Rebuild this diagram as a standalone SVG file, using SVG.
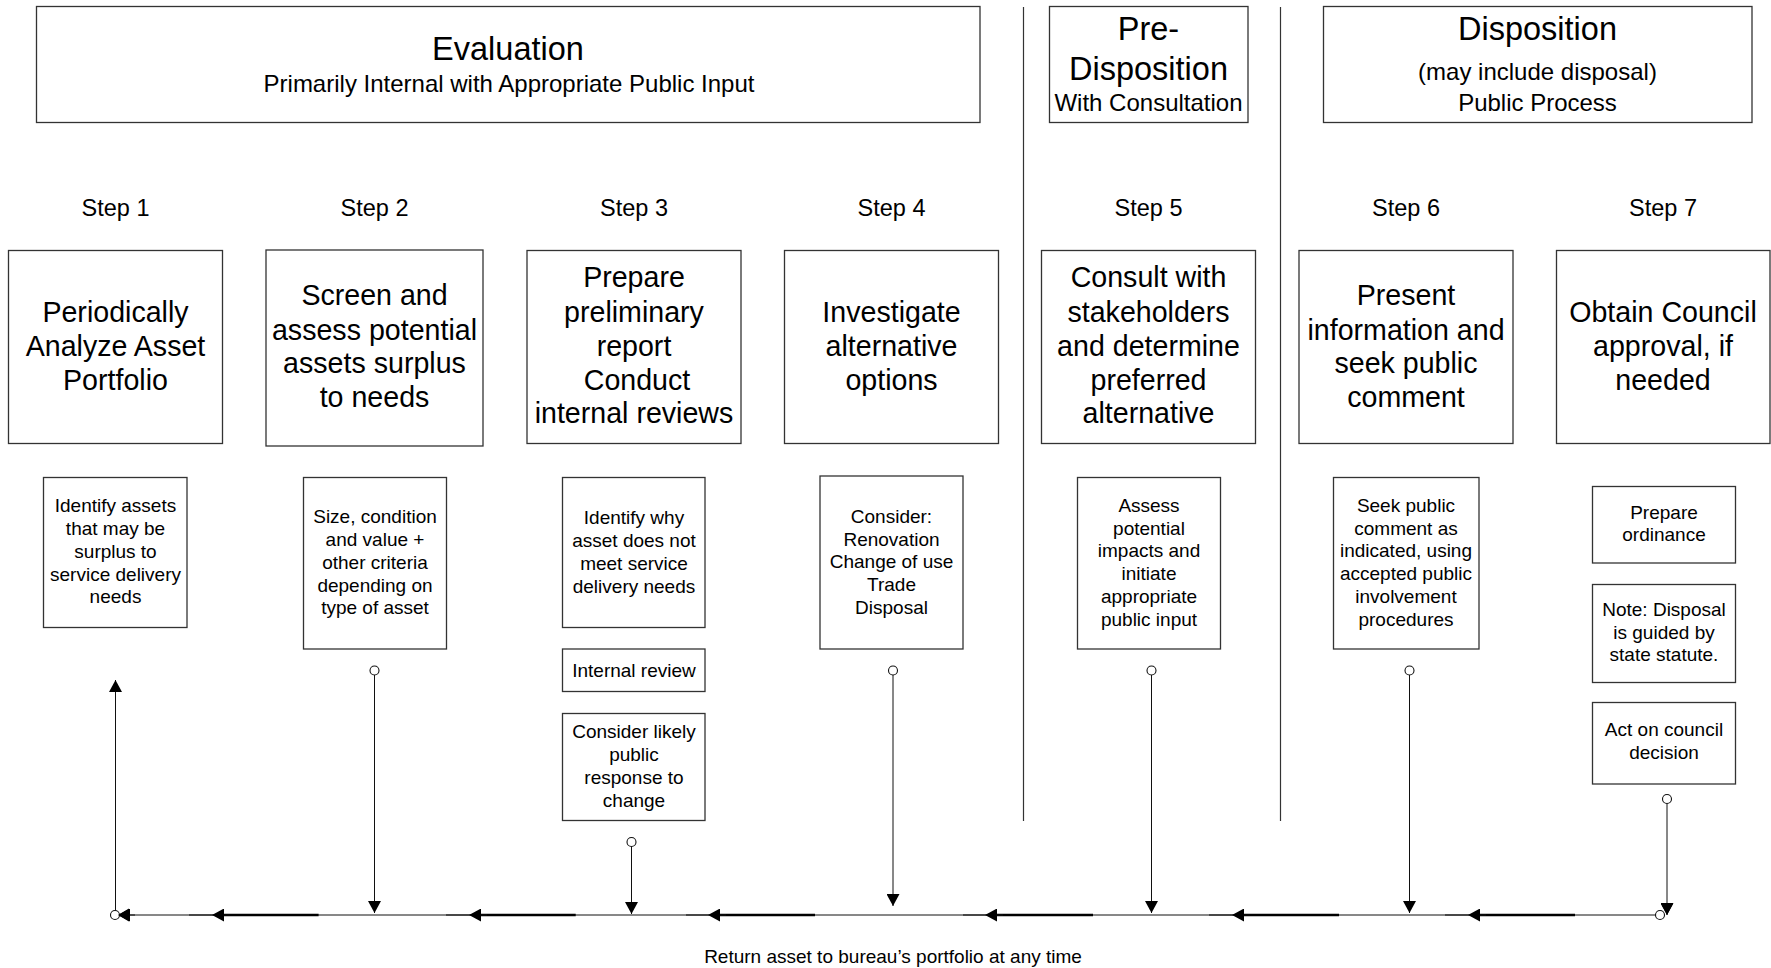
<svg xmlns="http://www.w3.org/2000/svg" width="1771" height="968" viewBox="0 0 1771 968">
<defs>
<style>
.box{fill:#fff;stroke:#333;stroke-width:1.3}
.t{font-family:"Liberation Sans",Arial,sans-serif;fill:#000;text-anchor:middle}
.h1{font-size:32.5px}
.h2{font-size:24px}
.st{font-size:23.5px}
.big{font-size:28.6px}
.sm{font-size:19px}
.ln{fill:none;stroke:#111;stroke-width:1}
.mid{fill:none;stroke:#333;stroke-width:1.6}
.thick{fill:none;stroke:#000;stroke-width:2.4}
.sep{fill:none;stroke:#333;stroke-width:1.2}
.dot{fill:#fff;stroke:#111;stroke-width:1.1}
</style>
<marker id="arr" markerWidth="12" markerHeight="13" refX="12" refY="6.5" orient="auto" markerUnits="userSpaceOnUse">
<path d="M0,0 L12,6.5 L0,13 z" fill="#000"/>
</marker>
</defs>
<rect width="1771" height="968" fill="#fff"/>

<g id="header-evaluation">
<rect class="box" x="36.5" y="6.5" width="943.5" height="116"/>
<text class="t h1" x="508" y="60">Evaluation</text>
<text class="t h2" x="509" y="92">Primarily Internal with Appropriate Public Input</text>
</g>
<g id="header-predisposition">
<rect class="box" x="1049.5" y="6.5" width="198.5" height="116"/>
<text class="t h1" x="1148.5" y="40">Pre-</text>
<text class="t h1" x="1148.5" y="80">Disposition</text>
<text class="t h2" x="1148.5" y="111">With Consultation</text>
</g>
<g id="header-disposition">
<rect class="box" x="1323.5" y="6.5" width="428.5" height="116"/>
<text class="t h1" x="1537.5" y="40">Disposition</text>
<text class="t h2" x="1537.5" y="80">(may include disposal)</text>
<text class="t h2" x="1537.5" y="111">Public Process</text>
</g>

<g id="separators">
<line class="sep" x1="1023.5" y1="7" x2="1023.5" y2="821"/>
<line class="sep" x1="1280.5" y1="7" x2="1280.5" y2="821"/>
</g>

<g id="step1">
<text class="t st" x="115.5" y="216">Step 1</text>
<rect class="box" x="8.5" y="250.5" width="214" height="193"/>
<text class="t big" x="115.5" y="322">Periodically</text>
<text class="t big" x="115.5" y="356">Analyze Asset</text>
<text class="t big" x="115.5" y="390">Portfolio</text>
<rect class="box" x="43.5" y="477.5" width="143.5" height="150"/>
<text class="t sm" x="115.5" y="512">Identify assets</text>
<text class="t sm" x="115.5" y="535">that may be</text>
<text class="t sm" x="115.5" y="557.5">surplus to</text>
<text class="t sm" x="115.5" y="580.5">service delivery</text>
<text class="t sm" x="115.5" y="603">needs</text>
</g>

<g id="step2">
<text class="t st" x="374.5" y="216">Step 2</text>
<rect class="box" x="266" y="250" width="217" height="196"/>
<text class="t big" x="374.5" y="305">Screen and</text>
<text class="t big" x="374.5" y="339.5">assess potential</text>
<text class="t big" x="374.5" y="373">assets surplus</text>
<text class="t big" x="374.5" y="407">to needs</text>
<rect class="box" x="303.5" y="477.5" width="143" height="171.5"/>
<text class="t sm" x="375" y="523">Size, condition</text>
<text class="t sm" x="375" y="546">and value +</text>
<text class="t sm" x="375" y="568.5">other criteria</text>
<text class="t sm" x="375" y="591.5">depending on</text>
<text class="t sm" x="375" y="614">type of asset</text>
</g>

<g id="step3">
<text class="t st" x="634" y="216">Step 3</text>
<rect class="box" x="527" y="250.5" width="214" height="193"/>
<text class="t big" x="634" y="287">Prepare</text>
<text class="t big" x="634" y="322">preliminary</text>
<text class="t big" x="634" y="356">report</text>
<text class="t big" x="637" y="390">Conduct</text>
<text class="t big" x="634" y="423">internal reviews</text>
<rect class="box" x="562.5" y="477.5" width="142.5" height="150"/>
<text class="t sm" x="634" y="524">Identify why</text>
<text class="t sm" x="634" y="547">asset does not</text>
<text class="t sm" x="634" y="570">meet service</text>
<text class="t sm" x="634" y="592.5">delivery needs</text>
<rect class="box" x="562.5" y="649" width="142.5" height="42.5"/>
<text class="t sm" x="634" y="677">Internal review</text>
<rect class="box" x="562.5" y="713.5" width="142.5" height="107"/>
<text class="t sm" x="634" y="738">Consider likely</text>
<text class="t sm" x="634" y="761">public</text>
<text class="t sm" x="634" y="784">response to</text>
<text class="t sm" x="634" y="806.5">change</text>
</g>

<g id="step4">
<text class="t st" x="891.5" y="216">Step 4</text>
<rect class="box" x="784.5" y="250.5" width="214" height="193"/>
<text class="t big" x="891.5" y="322">Investigate</text>
<text class="t big" x="891.5" y="356">alternative</text>
<text class="t big" x="891.5" y="390">options</text>
<rect class="box" x="820" y="476" width="143" height="173"/>
<text class="t sm" x="891.5" y="523">Consider:</text>
<text class="t sm" x="891.5" y="545.5">Renovation</text>
<text class="t sm" x="891.5" y="568">Change of use</text>
<text class="t sm" x="891.5" y="591">Trade</text>
<text class="t sm" x="891.5" y="614">Disposal</text>
</g>

<g id="step5">
<text class="t st" x="1148.5" y="216">Step 5</text>
<rect class="box" x="1041.5" y="250.5" width="214" height="193"/>
<text class="t big" x="1148.5" y="287">Consult with</text>
<text class="t big" x="1148.5" y="322">stakeholders</text>
<text class="t big" x="1148.5" y="356">and determine</text>
<text class="t big" x="1148.5" y="390">preferred</text>
<text class="t big" x="1148.5" y="423">alternative</text>
<rect class="box" x="1077.5" y="477.5" width="143" height="171.5"/>
<text class="t sm" x="1149" y="511.5">Assess</text>
<text class="t sm" x="1149" y="534.5">potential</text>
<text class="t sm" x="1149" y="557">impacts and</text>
<text class="t sm" x="1149" y="580">initiate</text>
<text class="t sm" x="1149" y="603">appropriate</text>
<text class="t sm" x="1149" y="625.5">public input</text>
</g>

<g id="step6">
<text class="t st" x="1406" y="216">Step 6</text>
<rect class="box" x="1299" y="250.5" width="214" height="193"/>
<text class="t big" x="1406" y="305">Present</text>
<text class="t big" x="1406" y="339.5">information and</text>
<text class="t big" x="1406" y="373">seek public</text>
<text class="t big" x="1406" y="407">comment</text>
<rect class="box" x="1333.5" y="477.5" width="145.5" height="171.5"/>
<text class="t sm" x="1406" y="511.5">Seek public</text>
<text class="t sm" x="1406" y="534.5">comment as</text>
<text class="t sm" x="1406" y="557">indicated, using</text>
<text class="t sm" x="1406" y="580">accepted public</text>
<text class="t sm" x="1406" y="603">involvement</text>
<text class="t sm" x="1406" y="625.5">procedures</text>
</g>

<g id="step7">
<text class="t st" x="1663" y="216">Step 7</text>
<rect class="box" x="1556.5" y="250.5" width="213.5" height="193"/>
<text class="t big" x="1663" y="322">Obtain Council</text>
<text class="t big" x="1663" y="356">approval, if</text>
<text class="t big" x="1663" y="390">needed</text>
<rect class="box" x="1592.5" y="486.5" width="143" height="76.5"/>
<text class="t sm" x="1664" y="518.5">Prepare</text>
<text class="t sm" x="1664" y="540.5">ordinance</text>
<rect class="box" x="1592.5" y="584.5" width="143" height="98"/>
<text class="t sm" x="1664" y="616">Note: Disposal</text>
<text class="t sm" x="1664" y="639">is guided by</text>
<text class="t sm" x="1664" y="661">state statute.</text>
<rect class="box" x="1592.5" y="702.5" width="143" height="81.5"/>
<text class="t sm" x="1664" y="736">Act on council</text>
<text class="t sm" x="1664" y="759">decision</text>
</g>

<g id="connectors">
<line class="ln" x1="1660" y1="915" x2="120" y2="915"/>
<path class="mid" d="M189,915 H212 M446,915 H469 M686,915 H708 M963,915 H985 M1209,915 H1232 M1445,915 H1468"/>
<path class="thick" d="M318.6,915 H223 M575.7,915 H480 M815,915 H719 M1093,915 H996 M1339,915 H1243 M1575,915 H1479"/>
<path class="ln" d="M135,915 H118" marker-end="url(#arr)"/>
<path class="ln" d="M230,915 H212" marker-end="url(#arr)"/>
<path class="ln" d="M487,915 H469" marker-end="url(#arr)"/>
<path class="ln" d="M726,915 H708" marker-end="url(#arr)"/>
<path class="ln" d="M1003,915 H985" marker-end="url(#arr)"/>
<path class="ln" d="M1250,915 H1232" marker-end="url(#arr)"/>
<path class="ln" d="M1486,915 H1468" marker-end="url(#arr)"/>
<path class="ln" d="M115.5,915 V680" marker-end="url(#arr)"/>
<path class="ln" d="M374.5,675 V913" marker-end="url(#arr)"/>
<path class="ln" d="M631.5,846 V914" marker-end="url(#arr)"/>
<path class="ln" d="M893,675 V906" marker-end="url(#arr)"/>
<path class="ln" d="M1151.5,675 V913" marker-end="url(#arr)"/>
<path class="ln" d="M1409.5,675 V913" marker-end="url(#arr)"/>
<path class="ln" d="M1667,803.5 V915" marker-end="url(#arr)"/>
<circle class="dot" cx="115" cy="915" r="4.5"/>
<circle class="dot" cx="1660" cy="915" r="4.5"/>
<circle class="dot" cx="374.5" cy="670.5" r="4.5"/>
<circle class="dot" cx="631.5" cy="842" r="4.5"/>
<circle class="dot" cx="893" cy="670.5" r="4.5"/>
<circle class="dot" cx="1151.5" cy="670.5" r="4.5"/>
<circle class="dot" cx="1409.5" cy="670.5" r="4.5"/>
<circle class="dot" cx="1667" cy="799" r="4.5"/>
<path d="M1661,904 H1673 L1667,915 z" fill="#000"/>
<path d="M118,915 L129,908.5 V921.5 z" fill="#000"/>
</g>

<g id="footer">
<text class="t sm" x="893" y="963">Return asset to bureau’s portfolio at any time</text>
</g>
</svg>
